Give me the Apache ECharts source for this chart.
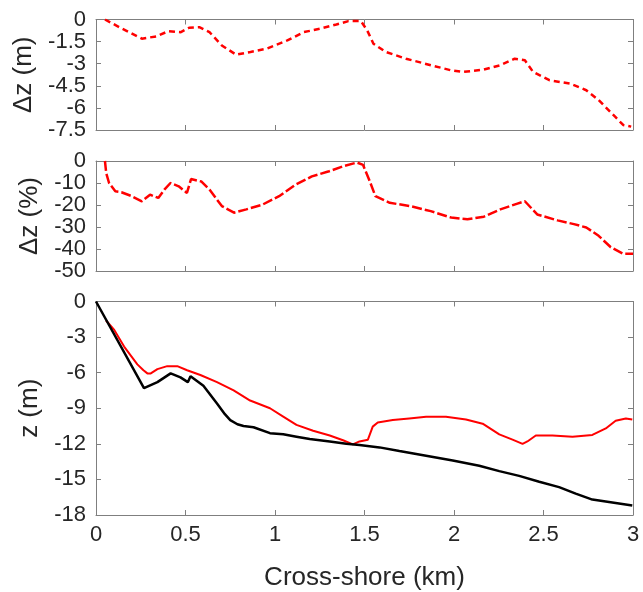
<!DOCTYPE html>
<html>
<head>
<meta charset="utf-8">
<script src="https://cdn.jsdelivr.net/npm/echarts@6/dist/echarts.min.js"></script>
<style>
html,body{margin:0;padding:0;background:#fff;}
#c{width:643px;height:592px;}
</style>
</head>
<body>
<div id="c"></div>
<script>
// ---- Data ----
// Panel 1: Δz (m)
const dzMX = [0.05,0.13,0.256,0.336,0.405,0.474,0.52,0.577,0.634,0.703,0.783,0.863,0.954,1.069,1.16,1.25,1.343,1.41,1.48,1.515,1.55,1.618,1.732,1.87,1.984,2.05,2.167,2.26,2.339,2.396,2.442,2.533,2.648,2.739,2.808,2.9,2.945,2.99];
const dzM  = [0,-0.52,-1.3,-1.15,-0.79,-0.86,-0.56,-0.52,-0.86,-1.76,-2.39,-2.2,-1.98,-1.42,-0.86,-0.63,-0.34,-0.11,-0.11,-0.74,-1.64,-2.2,-2.66,-3.1,-3.45,-3.56,-3.4,-3.1,-2.66,-2.77,-3.56,-4.12,-4.35,-4.8,-5.47,-6.6,-7.16,-7.27];
// Panel 2: Δz (%)
const dzPX = [0.05,0.057,0.073,0.108,0.142,0.2,0.256,0.302,0.348,0.382,0.416,0.462,0.508,0.531,0.588,0.634,0.703,0.771,0.84,0.931,1.023,1.114,1.206,1.297,1.389,1.458,1.492,1.526,1.561,1.641,1.755,1.87,1.984,2.075,2.167,2.259,2.35,2.396,2.465,2.579,2.67,2.739,2.808,2.876,2.945,3.0];
const dzP  = [0,-5.5,-10,-13.8,-14.2,-16,-18.3,-15.3,-16.8,-13,-10,-11.5,-14.5,-8.2,-9.3,-13,-20.5,-23.5,-22,-19.8,-16,-10.8,-7,-4.8,-2.2,-0.7,-1.8,-8.5,-16,-19,-20.5,-22.8,-25.7,-26.5,-25.3,-22,-19.5,-18.3,-24.3,-27,-28.7,-30.2,-34,-39.2,-42.2,-42.2];
// Panel 3: z (m) — initial (black) and final (red) profiles
const blackX = [0,0.268,0.343,0.417,0.472,0.513,0.528,0.60,0.676,0.72,0.75,0.79,0.824,0.88,0.972,1.046,1.12,1.194,1.306,1.398,1.472,1.528,1.584,1.695,1.844,1.993,2.141,2.253,2.364,2.476,2.587,2.68,2.773,2.866,2.996];
const blackZ = [0,-7.3,-6.8,-6.06,-6.4,-6.8,-6.3,-7.1,-8.6,-9.5,-10.0,-10.35,-10.5,-10.6,-11.1,-11.2,-11.4,-11.6,-11.8,-12.0,-12.1,-12.2,-12.3,-12.6,-13.0,-13.4,-13.85,-14.3,-14.7,-15.2,-15.65,-16.2,-16.7,-16.9,-17.2];
const redX = [0.056,0.102,0.157,0.231,0.265,0.287,0.306,0.343,0.398,0.454,0.509,0.583,0.676,0.769,0.861,0.972,1.046,1.12,1.213,1.306,1.38,1.435,1.472,1.519,1.546,1.574,1.658,1.75,1.844,1.955,2.067,2.16,2.253,2.327,2.383,2.41,2.457,2.55,2.662,2.773,2.848,2.903,2.96,2.996];
const redZ = [-1.6,-2.4,-3.8,-5.3,-5.8,-6.06,-6.06,-5.7,-5.45,-5.45,-5.8,-6.2,-6.8,-7.5,-8.35,-9.0,-9.7,-10.4,-10.9,-11.3,-11.7,-12.05,-11.8,-11.65,-10.55,-10.2,-10.0,-9.86,-9.72,-9.72,-9.95,-10.3,-11.2,-11.65,-12.0,-11.8,-11.3,-11.3,-11.4,-11.25,-10.7,-10.05,-9.86,-9.95];

const yNames = ['\u0394z (m)', '\u0394z (%)', 'z (m)'];

const pairs = (xs, ys) => xs.map((x, i) => [x, ys[i]]);

const FONT = 'Liberation Sans, Arial, Helvetica, sans-serif';
const GRAY = '#7f7f7f';
const TXT = '#262626';

const grids = [
  {left: 96, right: 10, top: 19.5, height: 110.5},
  {left: 96, right: 10, top: 161, height: 110},
  {left: 96, right: 10, top: 301.5, height: 217}
];
const yRanges = [
  {min: -7.5, max: 0, interval: 1.5},
  {min: -50, max: 0, interval: 10},
  {min: -18, max: 0, interval: 3}
];

const xAxes = [], yAxes = [];
grids.forEach((g, i) => {
  const common = {
    type: 'value', min: 0, max: 3, interval: 0.5, gridIndex: i,
    axisLine: {show: true, onZero: false, lineStyle: {color: GRAY, width: 1}},
    axisTick: {show: true, inside: true, length: 5, lineStyle: {color: GRAY}},
    splitLine: {show: false}
  };
  xAxes.push(Object.assign({}, common, {
    position: 'bottom',
    axisLabel: {show: i === 2, color: TXT, fontSize: 22, fontFamily: FONT, margin: 9,
      formatter: v => String(v)},
    name: i === 2 ? 'Cross-shore (km)' : '',
    nameLocation: 'middle', nameGap: 50,
    nameTextStyle: {color: TXT, fontSize: 26, fontFamily: FONT}
  }));
  xAxes.push(Object.assign({}, common, {position: 'top', axisLabel: {show: false}}));
  const yc = Object.assign({type: 'value', gridIndex: i,
    axisLine: {show: true, onZero: false, lineStyle: {color: GRAY, width: 1}},
    axisTick: {show: true, inside: true, length: 5, lineStyle: {color: GRAY}},
    splitLine: {show: false}}, yRanges[i]);
  yAxes.push(Object.assign({}, yc, {
    position: 'left',
    axisLabel: {color: TXT, fontSize: 22, fontFamily: FONT, margin: 10, formatter: v => String(v)},
    name: yNames[i], nameLocation: 'middle', nameGap: 48, nameRotate: 90,
    nameTextStyle: {color: TXT, fontSize: 26, fontFamily: FONT}
  }));
  yAxes.push(Object.assign({}, yc, {position: 'right', axisLabel: {show: false}}));
});

const chart = echarts.init(document.getElementById('c'), null, {renderer: 'canvas'});
chart.setOption({
  animation: false,
  backgroundColor: '#ffffff',
  grid: grids,
  xAxis: xAxes,
  yAxis: yAxes,
  series: [
    {type: 'line', xAxisIndex: 0, yAxisIndex: 0, data: pairs(dzMX, dzM), showSymbol: false,
      lineStyle: {color: '#ff0000', width: 2.5, type: [6, 4]}},
    {type: 'line', xAxisIndex: 2, yAxisIndex: 2, data: pairs(dzPX, dzP), showSymbol: false,
      lineStyle: {color: '#ff0000', width: 2.5, type: [10, 3]}},
    {type: 'line', xAxisIndex: 4, yAxisIndex: 4, data: pairs(redX, redZ), showSymbol: false,
      lineStyle: {color: '#ff0000', width: 2}},
    {type: 'line', xAxisIndex: 4, yAxisIndex: 4, data: pairs(blackX, blackZ), showSymbol: false,
      lineStyle: {color: '#000000', width: 2.5}}
  ]
});
</script>
</body>
</html>
